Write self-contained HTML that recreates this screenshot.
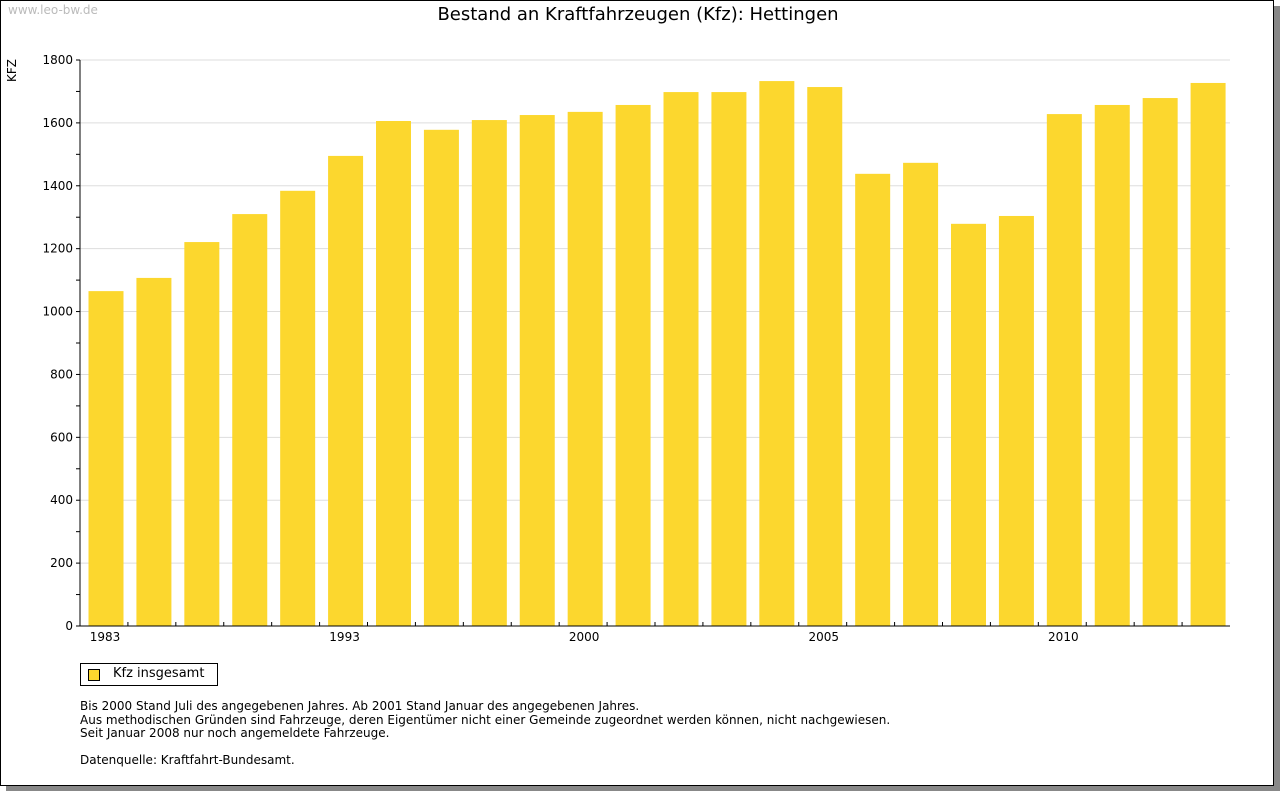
<!DOCTYPE html>
<html><head><meta charset="utf-8"><style>
body{margin:0;background:#fff;font-family:"DejaVu Sans","Liberation Sans",sans-serif;}
#frame{position:absolute;left:0;top:0;width:1272px;height:784px;border:1px solid #000;background:#fff;box-shadow:6px 6px 0 #888;}
.t{position:absolute;white-space:nowrap;}
</style></head><body>
<div id="frame"></div>
<div class="t" style="left:8px;top:3px;font-size:12px;color:#bbb">www.leo-bw.de</div>
<div class="t" style="left:0;width:1276px;text-align:center;top:4px;font-size:18px">Bestand an Kraftfahrzeugen (Kfz): Hettingen</div>
<svg id="c" width="1280" height="791" style="position:absolute;left:0;top:0"></svg>
<div class="t" style="left:80px;top:663px;width:136px;height:21px;border:1px solid #000;font-size:13px">
<span style="position:absolute;left:7px;top:5px;width:10px;height:10px;background:#fcd72e;border:1px solid #000"></span>
<span style="position:absolute;left:32px;top:2px">Kfz insgesamt</span></div>
<div class="t" style="left:80px;top:700px;font-size:12px;line-height:13.5px">Bis 2000 Stand Juli des angegebenen Jahres. Ab 2001 Stand Januar des angegebenen Jahres.<br>Aus methodischen Gründen sind Fahrzeuge, deren Eigentümer nicht einer Gemeinde zugeordnet werden können, nicht nachgewiesen.<br>Seit Januar 2008 nur noch angemeldete Fahrzeuge.<br><br>Datenquelle: Kraftfahrt-Bundesamt.</div>
<script>
const categories=["1983","","","","","1993","","","","","2000","","","","","2005","","","","","2010","","",""];
const values=[1065,1107,1221,1310,1384,1495,1606,1578,1609,1625,1635,1657,1698,1698,1733,1714,1438,1473,1279,1304,1628,1657,1679,1727];
const yTicks=[0,200,400,600,800,1000,1200,1400,1600,1800];
const svg=document.getElementById('c');const NS='http://www.w3.org/2000/svg';
const X0=80,X1=1230,Y0=626,Y1=60,YMAX=1800;
const y=v=>Y0-(v/YMAX)*(Y0-Y1);
const step=(X1-X0)/categories.length;
const x=i=>X0+step*i;
function el(t,a,txt){const e=document.createElementNS(NS,t);for(const k in a)e.setAttribute(k,a[k]);if(txt!==undefined)e.textContent=txt;svg.appendChild(e);return e;}
yTicks.forEach(v=>{
 if(v>0){const g=el('line',{x1:X0,x2:X1,y1:y(v),y2:y(v),stroke:'#ddd'});
 
 }
 const l=el('text',{x:73,y:y(v)+4,'text-anchor':'end','font-size':12,'font-family':'DejaVu Sans, sans-serif'},String(v));
 
 
});
for(let v=0;v<=YMAX;v+=100){const t=el('line',{x1:X0-4,x2:X0,y1:y(v),y2:y(v),stroke:'#000'});
 
 }
values.forEach((v,i)=>{
 const b=el('rect',{x:x(i)+8.5,width:35,y:y(v),height:Y0-y(v),fill:'#fcd72e'});
 
 
});
categories.forEach((c,i)=>{
 if(i>0){const t=el('line',{x1:x(i),x2:x(i),y1:Y0,y2:Y0-4,stroke:'#000'});
 
 }
 if(c){const l=el('text',{x:x(i)+25,y:Y0+15,'text-anchor':'middle','font-size':12,'font-family':'DejaVu Sans, sans-serif'},c);
 
 }
});
const ax=el('line',{x1:X0,x2:X0,y1:Y1,y2:Y0,stroke:'#000'});


const bx=el('line',{x1:X0,x2:X1,y1:Y0,y2:Y0,stroke:'#000'});


const yt=el('text',{x:0,y:0,'font-size':12,transform:'translate(16,82) rotate(-90)','font-family':'DejaVu Sans, sans-serif'},'KFZ');


</script>
</body></html>
